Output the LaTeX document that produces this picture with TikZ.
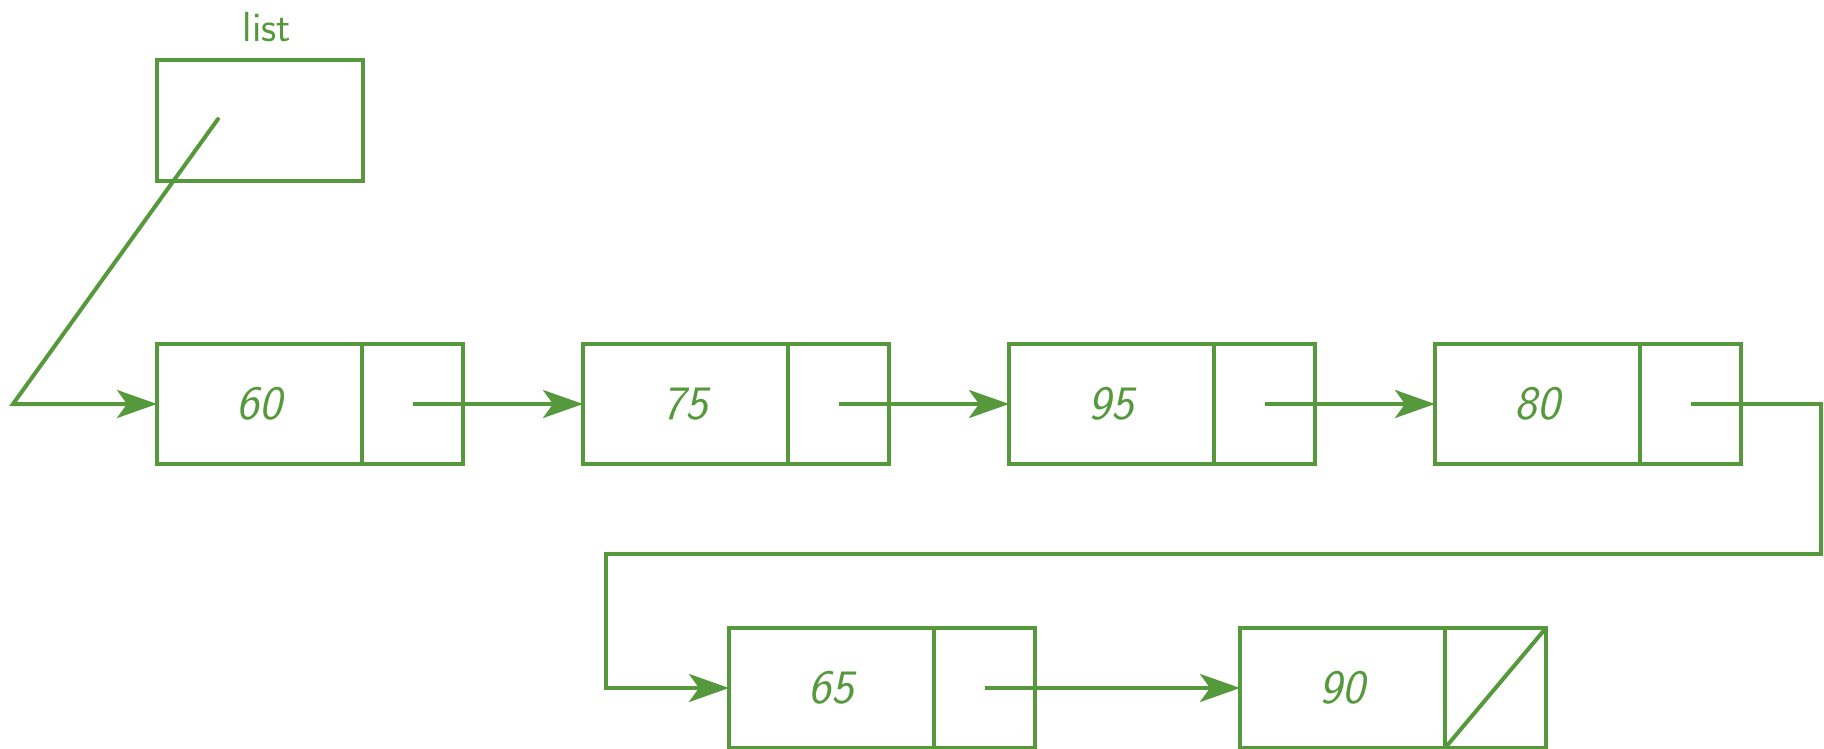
\documentclass[tikz,border=0pt]{standalone}
\usetikzlibrary{arrows.meta,positioning}
\definecolor{lgreen}{RGB}{85,153,60}
\begin{document}
\begin{tikzpicture}[x=1pt,y=-1pt,
  line width=4pt, draw=lgreen,
  datapart/.style={draw=lgreen, rectangle, minimum width=205pt, minimum height=120pt, inner sep=0pt, outer sep=0pt,
    text=lgreen, font=\fontsize{48}{48}\selectfont\sffamily\itshape},
  ptrpart/.style={draw=lgreen, rectangle, minimum width=101pt, minimum height=120pt, inner sep=0pt, outer sep=0pt},
  varbox/.style={draw=lgreen, rectangle, minimum width=206pt, minimum height=121pt, inner sep=0pt, outer sep=0pt},
  lbl/.style={text=lgreen, font=\fontsize{42}{42}\selectfont\sffamily, inner sep=0pt},
  arr/.style={draw=lgreen, -{Stealth[length=40pt,width=28pt,inset=10pt,fill=lgreen]}, line join=miter}
]
\useasboundingbox (0,0) rectangle (1824,749);

% list variable
\node[varbox] (list) at (260,120.5) {};
\node[lbl, anchor=base] (listlbl) at (267,42) {list};

% top row
\node[datapart] (d1) at (259.5,404) {60};
\node[ptrpart, anchor=west] (p1) at (d1.east) {};
\node[datapart] (d2) at (685.5,404) {75};
\node[ptrpart, anchor=west] (p2) at (d2.east) {};
\node[datapart] (d3) at (1111.5,404) {95};
\node[ptrpart, anchor=west] (p3) at (d3.east) {};
\node[datapart] (d4) at (1537.5,404) {80};
\node[ptrpart, anchor=west] (p4) at (d4.east) {};

% bottom row
\node[datapart] (d5) at (831.5,688) {65};
\node[ptrpart, anchor=west] (p5) at (d5.east) {};
\node[datapart] (d6) at (1342.5,688) {90};
\node[ptrpart, anchor=west] (p6) at (d6.east) {};

% null pointer
\draw[line cap=round] (p6.south west) -- (p6.north east);

% connectors
\coordinate (lstart) at (218,119);
\coordinate (bend) at (13,404);
\draw[arr, line cap=round] (lstart) -- (bend) -- (d1.west);
\draw[arr] (p1.center) -- (d2.west);
\draw[arr] (p2.center) -- (d3.west);
\draw[arr] (p3.center) -- (d4.west);
\coordinate (r1) at (1821,404);
\coordinate (r2) at (1821,554);
\coordinate (r3) at (606,554);
\coordinate (r4) at (606,688);
\draw[arr] (p4.center) -- (r1) -- (r2) -- (r3) -- (r4) -- (d5.west);
\draw[arr] (p5.center) -- (d6.west);
\end{tikzpicture}
\end{document}
